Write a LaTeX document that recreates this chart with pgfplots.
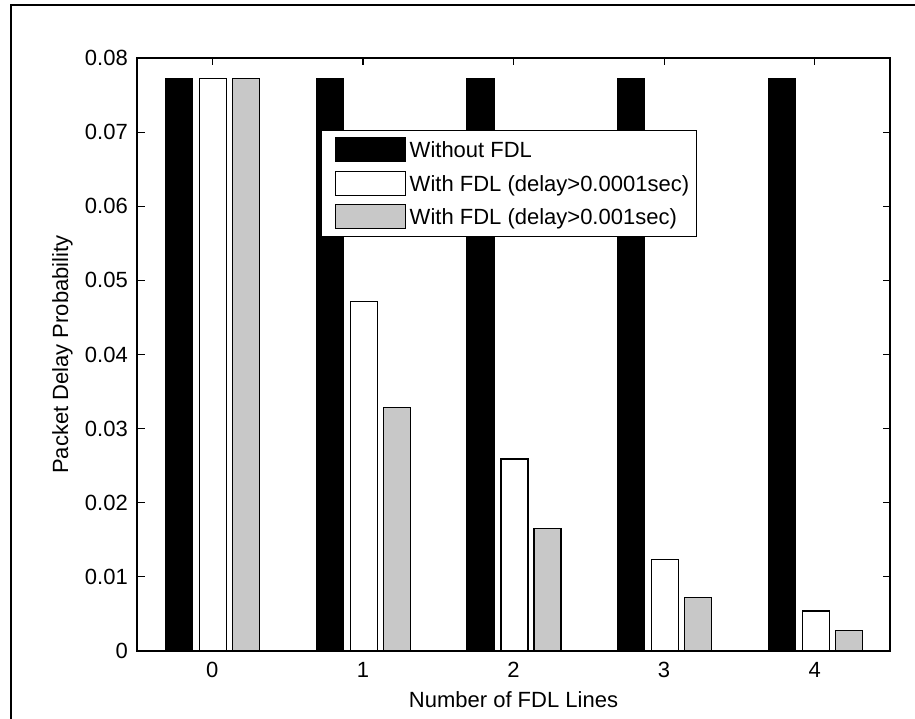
\documentclass[border=0pt]{standalone}
\usepackage{pgfplots}
\pgfplotsset{compat=1.18}
\usepackage{fontspec}
\setmainfont{Liberation Sans}
\definecolor{barg}{RGB}{200,200,200}
\pgfplotsset{
  mylegend/.style={legend image code/.code={\path (0pt,0pt); \draw[##1] (6pt,-4pt) rectangle (76pt,20pt);}},
}
\begin{document}
\fontsize{22}{26}\selectfont
\begin{tikzpicture}
\begin{axis}[
  width=753pt, height=593pt, scale only axis,
  xmin=-0.5, xmax=4.5, ymin=0, ymax=0.08,
  xtick={0,1,2,3,4},
  ytick={0,0.01,0.02,0.03,0.04,0.05,0.06,0.07,0.08},
  yticklabels={0,0.01,0.02,0.03,0.04,0.05,0.06,0.07,0.08},
  tick align=inside, major tick length=7.5pt,
  axis line style={line width=1.2pt, black},
  tick style={line width=1.2pt, black},
  scaled y ticks=false,
  /pgf/number format/assume math mode=true,
  yticklabel style={inner sep=0pt, anchor=east, xshift=-9pt},
  xticklabel style={inner sep=0pt, anchor=north, yshift=-11pt},
  xlabel={Number of FDL Lines}, ylabel={Packet Delay Probability},
  xlabel style={at={(rel axis cs:0.5,-0.0961)}, anchor=base, inner sep=0pt},
  ylabel style={at={(rel axis cs:-0.0916,0.5)}, anchor=base, inner sep=0pt},
  legend cell align=left,
  legend style={at={(rel axis cs:0.2444,0.8786)}, anchor=north west,
    draw=black, line width=1pt, fill=white,
    inner xsep=7pt, inner ysep=6.5pt, row sep=8pt, column sep=4pt,
    nodes={inner sep=0pt, text height=16pt, text depth=5pt, anchor=base west}},
]
\addplot[ybar, bar width=27pt, bar shift=-33pt, fill=black, draw=black, line width=1.2pt, mylegend]
  coordinates {(0,0.0772) (1,0.0772) (2,0.0772) (3,0.0772) (4,0.0772)};
\addplot[ybar, bar width=27pt, bar shift=1pt, fill=white, draw=black, line width=1.2pt, mylegend]
  coordinates {(0,0.0772) (1,0.0472) (2,0.0259) (3,0.0123) (4,0.0054)};
\addplot[ybar, bar width=27pt, bar shift=34pt, fill=barg, draw=black, line width=1.2pt, mylegend]
  coordinates {(0,0.0772) (1,0.0329) (2,0.0165) (3,0.0072) (4,0.0028)};
\legend{Without FDL, With FDL (delay>0.0001sec), With FDL (delay>0.001sec)}
\coordinate (bbl) at (rel axis cs:-0.18194,-0.11467);
\coordinate (btr) at (rel axis cs:1.03320,1.09781);
\coordinate (fl) at (rel axis cs:-0.16733,-0.2);
\coordinate (ftl) at (rel axis cs:-0.16733,1.08938);
\coordinate (fr) at (rel axis cs:1.1,1.08938);
\end{axis}
\pgfresetboundingbox
\path[use as bounding box] (bbl) rectangle (btr);
\draw[line width=2pt, black] (fl) -- (ftl) -- (fr);
\end{tikzpicture}
\end{document}
